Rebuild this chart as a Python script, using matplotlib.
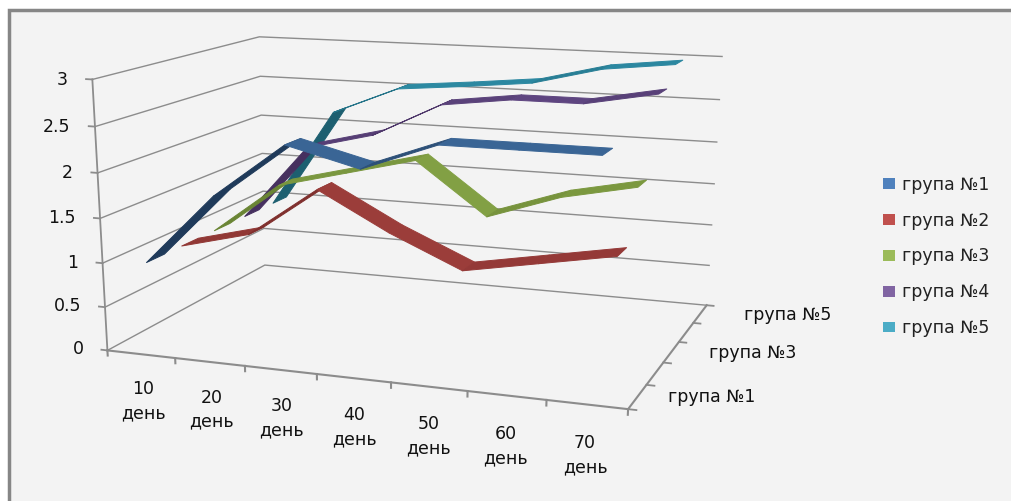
import numpy as np
import matplotlib
matplotlib.use('Agg')
import matplotlib.pyplot as plt
from matplotlib.patches import Rectangle, Patch
from mpl_toolkits.mplot3d.art3d import Poly3DCollection

days = ['10\nдень', '20\nдень', '30\nдень', '40\nдень', '50\nдень', '60\nдень', '70\nдень']
series_names = ['група №1', 'група №2', 'група №3', 'група №4', 'група №5']
value_ticks = [0, 0.5, 1, 1.5, 2, 2.5, 3]
value_labels = ['0', '0.5', '1', '1.5', '2', '2.5', '3']

group1 = [1.0, 1.8, 2.4, 2.2, 2.5, 2.5, 2.5]
group2 = [1.0, 1.2, 1.77, 1.35, 1.0, 1.15, 1.3]
group3 = [1.0, 1.6, 1.8, 2.0, 1.42, 1.7, 1.87]
group4 = [1.0, 1.9, 2.1, 2.5, 2.6, 2.6, 2.75]
group5 = [1.0, 2.2, 2.53, 2.6, 2.68, 2.88, 2.97]

legend_colors = ['#4f81bd', '#c0504d', '#9bbb59', '#8064a2', '#4bacc6']
flat_colors = ['#3a6595', '#9b3d3a', '#82a044', '#5e4580', '#2e8ea8']
dark_colors = ['#1f3a5a', '#7e2e2c', '#6a8534', '#46305f', '#1d5f70']

W, H = 1011, 501
GRID = '#8c8c8c'

# camera: calibrated on the chart frame, (category, series, value) -> picture pixel
calib = [
    (0, 0, 0, 107, 350), (7, 0, 0, 629, 408), (7, 5, 0, 707, 304), (0, 5, 0, 265, 265),
    (0, 0, 3, 93, 79), (0, 5, 3, 258, 37), (7, 5, 3, 722, 57),
    (0, 0, 1.5, 100, 218), (0, 5, 1.5, 263, 154), (7, 5, 1.5, 715, 183),
    (1, 0, 0, 175, 358), (2, 0, 0, 245, 366), (3, 0, 0, 317, 374), (4, 0, 0, 391, 383),
    (5, 0, 0, 467, 392), (6, 0, 0, 548, 400),
    (7, 1, 0, 645, 385), (7, 2, 0, 662, 363), (7, 3, 0, 679, 343), (7, 4, 0, 693, 323),
]
rows = []
for x, y, z, px, py in calib:
    py = H - py
    rows.append([x, y, z, 1, 0, 0, 0, 0, -px * x, -px * y, -px * z, -px])
    rows.append([0, 0, 0, 0, x, y, z, 1, -py * x, -py * y, -py * z, -py])
P = np.linalg.svd(np.array(rows, float))[2][-1].reshape(3, 4)
P = P / P[2, 3]
M = np.array([P[0], P[1], [0, 0, 0, 1], P[2]])

fig = plt.figure(figsize=(W / 100, H / 100), dpi=100, facecolor='white')
fig.add_artist(Rectangle((8.5 / W, -0.1), 1.1, 1.1 - 10 / H, transform=fig.transFigure,
                         facecolor='#f3f3f3', edgecolor='#868686', linewidth=2.5, zorder=-1))

side = W / H
ax = fig.add_axes([0, (1 - side) / 2, 1, side], projection='3d', proj_type='ortho', computed_zorder=False)
ax.set_xticks([])
ax.set_yticks([])
ax.set_zticks([])
ax.set_axis_off()
ax.patch.set_visible(False)
ax.get_proj = lambda: M
ax.viewLim.intervalx = (0, W)
ax.viewLim.intervaly = ((H - W) / 2, (H + W) / 2)


def label3d(x, y, z, s, **kw):
    # plain 2d text at the projected spot of a chart position
    sx, sy, _, sw = M @ np.array([x, y, z, 1.0])
    ax.text2D(sx / sw, sy / sw, s, transform=ax.transData, ha=kw.pop('ha', 'center'), va='center',
              fontsize=12.5, color='#111111', zorder=6, **kw)


n_days = len(days)
n_series = len(series_names)

# walls grid
for v in value_ticks:
    ax.plot([0, 0, n_days], [0, n_series, n_series], [v, v, v], color=GRID, lw=1, zorder=1)
# axes
ax.plot([0, 0], [0, 0], [0, 3], color=GRID, lw=1.3, zorder=2)
ax.plot([0, n_days], [0, 0], [0, 0], color=GRID, lw=1.5, zorder=2)
ax.plot([n_days, n_days], [0, n_series], [0, 0], color=GRID, lw=1.5, zorder=2)
for v, lab in zip(value_ticks, value_labels):
    ax.plot([-0.09, 0], [0, 0], [v, v], color=GRID, lw=1.3, zorder=2)
    label3d(-0.36, 0, v - 0.02, lab, ha='right')
for i in range(n_days + 1):
    ax.plot([i, i], [0, 0], [0, -0.06], color=GRID, lw=1.5, zorder=2)
for i in range(n_series + 1):
    ax.plot([n_days, n_days + 0.1], [i, i], [0, 0], color=GRID, lw=1.3, zorder=2)

for i, lab in enumerate(days):
    label3d(i + 0.5, 0, -0.55, lab, linespacing=1.44)
for i in [0, 2, 4]:
    label3d(n_days + 0.89 + 0.0825 * i, i + 0.5, 0.08, series_names[i])

# ribbons, back series first so that the front ones sit on top
series = [group1, group2, group3, group4, group5]
half = 0.25
for s in range(n_series - 1, -1, -1):
    vals = series[s]
    base = np.array(matplotlib.colors.to_rgb(flat_colors[s]))
    dark = np.array(matplotlib.colors.to_rgb(dark_colors[s]))
    for i in range(n_days - 1):
        x0, x1 = i + 0.5, i + 1.5
        y0, y1 = s + 0.5 - half, s + 0.5 + half
        quad = [(x0, y0, vals[i]), (x1, y0, vals[i + 1]), (x1, y1, vals[i + 1]), (x0, y1, vals[i])]
        t = np.clip((vals[i + 1] - vals[i]) / 0.6, 0, 1)
        col = base * (1 - t) + dark * t
        poly = Poly3DCollection([quad], facecolor=col, edgecolor=col, linewidth=0.7, zorder=10 + (n_series - s))
        ax.add_collection3d(poly, autolim=False)

handles = [Patch(facecolor=c, edgecolor='none') for c in legend_colors]
fig.legend(handles, series_names, loc='upper left', bbox_to_anchor=(867 / W, 1 - 160 / H), frameon=False,
           fontsize=12.5, handlelength=0.69, handleheight=0.58, handletextpad=0.4, labelspacing=1.03,
           labelcolor='#222222', borderpad=0.4)

fig.savefig('out.png', dpi=100)
